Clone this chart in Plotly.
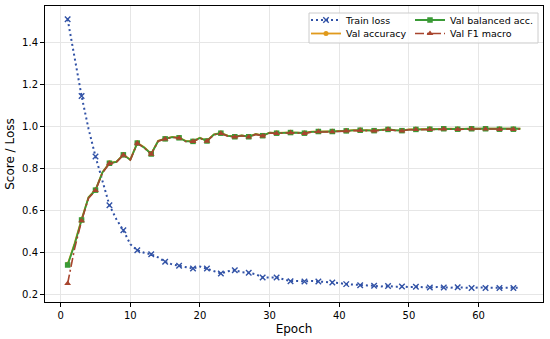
import plotly.graph_objects as go

epochs = list(range(1, 67))

train_loss = [
    1.511, 1.320, 1.146, 0.990, 0.858, 0.742, 0.626, 0.560, 0.507, 0.441,
    0.412, 0.400, 0.393, 0.378, 0.357, 0.345, 0.338, 0.332, 0.325, 0.335,
    0.325, 0.312, 0.302, 0.312, 0.317, 0.308, 0.305, 0.298, 0.283, 0.282,
    0.283, 0.274, 0.265, 0.266, 0.264, 0.266, 0.264, 0.262, 0.259, 0.256,
    0.251, 0.250, 0.246, 0.245, 0.243, 0.240, 0.242, 0.238, 0.240, 0.237,
    0.238, 0.236, 0.235, 0.237, 0.235, 0.234, 0.236, 0.234, 0.233, 0.235,
    0.233, 0.234, 0.233, 0.234, 0.233, 0.234,
]

val_balanced_acc = [
    0.342, 0.440, 0.556, 0.663, 0.698, 0.782, 0.826, 0.832, 0.866, 0.842,
    0.922, 0.900, 0.870, 0.932, 0.942, 0.950, 0.947, 0.930, 0.930, 0.946,
    0.932, 0.962, 0.969, 0.956, 0.952, 0.958, 0.952, 0.964, 0.957, 0.971,
    0.969, 0.972, 0.972, 0.971, 0.969, 0.975, 0.977, 0.976, 0.977, 0.980,
    0.980, 0.982, 0.983, 0.982, 0.981, 0.985, 0.987, 0.983, 0.981, 0.986,
    0.987, 0.988, 0.988, 0.989, 0.990, 0.989, 0.988, 0.990, 0.990, 0.990,
    0.990, 0.989, 0.988, 0.989, 0.988, 0.990,
]

val_accuracy = [
    0.345, 0.445, 0.560, 0.665, 0.700, 0.784, 0.828, 0.834, 0.867, 0.844,
    0.923, 0.902, 0.872, 0.933, 0.943, 0.951, 0.948, 0.932, 0.931, 0.947,
    0.933, 0.963, 0.970, 0.957, 0.953, 0.959, 0.953, 0.965, 0.958, 0.972,
    0.970, 0.973, 0.973, 0.972, 0.970, 0.976, 0.978, 0.977, 0.978, 0.981,
    0.981, 0.983, 0.984, 0.983, 0.982, 0.986, 0.988, 0.984, 0.982, 0.987,
    0.988, 0.989, 0.989, 0.990, 0.991, 0.990, 0.989, 0.991, 0.991, 0.991,
    0.991, 0.990, 0.989, 0.990, 0.989, 0.991,
]

val_f1_macro = [
    0.254, 0.420, 0.552, 0.660, 0.696, 0.780, 0.825, 0.831, 0.865, 0.841,
    0.921, 0.899, 0.869, 0.931, 0.941, 0.949, 0.946, 0.929, 0.929, 0.945,
    0.931, 0.961, 0.968, 0.955, 0.951, 0.957, 0.951, 0.963, 0.956, 0.970,
    0.968, 0.971, 0.971, 0.970, 0.968, 0.974, 0.976, 0.975, 0.976, 0.979,
    0.979, 0.981, 0.982, 0.981, 0.980, 0.984, 0.986, 0.982, 0.980, 0.985,
    0.986, 0.987, 0.987, 0.988, 0.989, 0.988, 0.987, 0.989, 0.989, 0.989,
    0.989, 0.988, 0.987, 0.988, 0.987, 0.989,
]

x_ticks = [0, 10, 20, 30, 40, 50, 60]
y_ticks = [0.2, 0.4, 0.6, 0.8, 1.0, 1.2, 1.4]

C_LOSS = "#3152a6"
C_ACC = "#e09a1c"
C_BAL = "#3a9a36"
C_F1 = "#a8452e"
FONT = "DejaVu Sans"


def every_other(color, n):
    return [color if i % 2 == 0 else "rgba(0,0,0,0)" for i in range(n)]


n = len(epochs)
fig = go.Figure()

fig.add_trace(go.Scatter(
    x=epochs, y=train_loss, name="Train loss", mode="lines+markers",
    line=dict(color=C_LOSS, width=2, dash="2px,3px"),
    marker=dict(symbol="x-thin", size=5.5, color=every_other(C_LOSS, n),
                line=dict(width=1.4, color=every_other(C_LOSS, n))),
    legend="legend", showlegend=True,
))
fig.add_trace(go.Scatter(
    x=epochs, y=val_accuracy, name="Val accuracy", mode="lines+markers",
    line=dict(color=C_ACC, width=1.8),
    marker=dict(symbol="circle", size=5, color=every_other(C_ACC, n), line=dict(width=0)),
    legend="legend2", showlegend=True,
))
fig.add_trace(go.Scatter(
    x=epochs, y=val_balanced_acc, name="Val balanced acc.", mode="lines+markers",
    line=dict(color=C_BAL, width=1.8),
    marker=dict(symbol="square", size=5.5, color=every_other(C_BAL, n), line=dict(width=0)),
    legend="legend3", showlegend=True,
))
fig.add_trace(go.Scatter(
    x=epochs, y=val_f1_macro, name="Val F1 macro", mode="lines+markers",
    line=dict(color=C_F1, width=1.6, dash="9px,3px,2px,3px"),
    marker=dict(symbol="triangle-up", size=6, color=every_other(C_F1, n), line=dict(width=0)),
    legend="legend4", showlegend=True,
))

# plot area in px: left 45, right 543, top 6, bottom 302
W, H = 550, 339
L, R, T, B = 45, 7, 6, 37
pw = W - L - R
ph = H - T - B


def px_x(p):
    return (p - L) / pw


def px_y(p):
    return 1 - (p - T) / ph


def leg(xp, yp):
    return dict(
        orientation="v", xanchor="left", yanchor="top",
        x=px_x(xp), y=px_y(yp),
        bgcolor="rgba(0,0,0,0)", borderwidth=0,
        font=dict(family=FONT, size=9.5, color="black"),
        itemclick=False, itemdoubleclick=False,
    )


fig.update_layout(
    width=W, height=H,
    margin=dict(l=L, r=R, t=T, b=B),
    paper_bgcolor="white", plot_bgcolor="white",
    font=dict(family=FONT, size=10, color="black"),
    showlegend=True,
    legend=leg(306, 5.5),
    legend2=leg(306, 19.0),
    legend3=leg(410, 5.5),
    legend4=leg(410, 19.0),
    shapes=[dict(
        type="rect", xref="paper", yref="paper",
        x0=px_x(309), x1=px_x(538), y0=px_y(43), y1=px_y(13),
        line=dict(color="#cccccc", width=1),
        fillcolor="rgba(255,255,255,0.8)", layer="above",
    )],
)

fig.update_xaxes(
    range=[-2.25, 69.25], tickvals=x_ticks,
    showgrid=True, gridcolor="#e6e6e6", gridwidth=1,
    showline=True, mirror=True, linecolor="black", linewidth=1,
    ticks="outside", ticklen=4, tickcolor="black", tickwidth=1,
    zeroline=False, tickfont=dict(family=FONT, size=10),
    title=dict(text="Epoch", font=dict(family=FONT, size=12), standoff=4),
    automargin=False,
)
fig.update_yaxes(
    range=[0.166, 1.574], tickvals=y_ticks, tickformat=".1f",
    showgrid=True, gridcolor="#e6e6e6", gridwidth=1,
    showline=True, mirror=True, linecolor="black", linewidth=1,
    ticks="outside", ticklen=4, tickcolor="black", tickwidth=1,
    zeroline=False, tickfont=dict(family=FONT, size=10),
    title=dict(text="Score / Loss", font=dict(family=FONT, size=12), standoff=4),
    automargin=False,
)

fig.write_html(
    "out.html",
    config={"displayModeBar": False},
    post_script="document.body.style.margin='0';document.body.style.padding='0';",
)
